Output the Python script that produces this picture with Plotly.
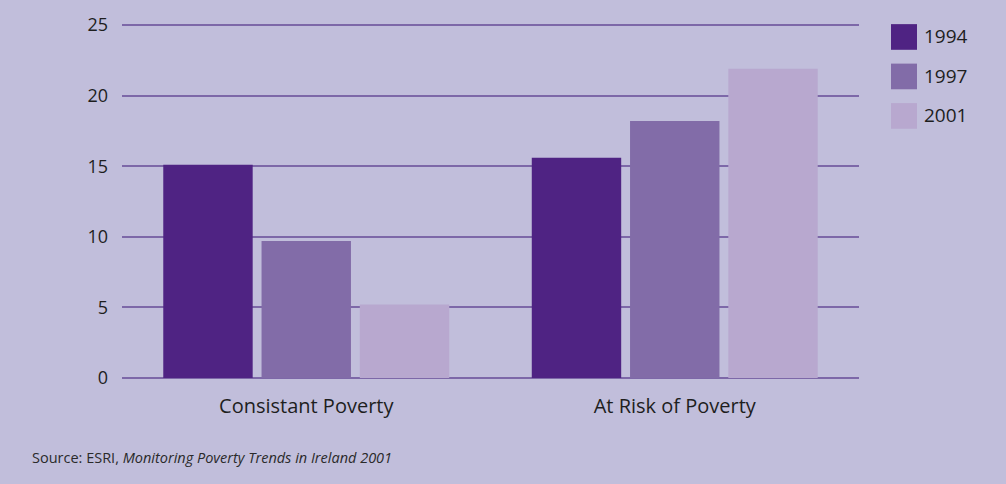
import plotly.graph_objects as go

categories = ["Consistant Poverty", "At Risk of Poverty"]
years = ["1994", "1997", "2001"]
values_1994 = [15.1, 15.6]
values_1997 = [9.7, 18.2]
values_2001 = [5.2, 21.9]
y_ticks = [0, 5, 10, 15, 20, 25]

series = [values_1994, values_1997, values_2001]
colors = ["#4f2383", "#826ca8", "#b8a8cf"]
bg = "#c1bedb"
grid = "#7d68a8"
txt = "#1e1e1e"
font_family = "Open Sans, Lato, sans-serif"

W, H = 1006, 484
L, R = 122, 859          # plot area pixel edges
BOT = 378.5              # pixel of y=0
YMAX = 25.15
PX_PER_UNIT = 14.3
plot_h = YMAX * PX_PER_UNIT
TOP = BOT - plot_h


def px(x):
    return (x - L) / (R - L)


def py(y):
    return (BOT - y) / plot_h


fig = go.Figure()
for name, vals, col in zip(years, series, colors):
    fig.add_trace(go.Bar(x=categories, y=vals, name=name,
                         marker=dict(color=col, line=dict(width=0)),
                         showlegend=False))

# Custom legend (large square swatches)
shapes = []
annotations = []
for i, (name, col) in enumerate(zip(years, colors)):
    y0 = 20 + i * 40
    shapes.append(dict(type="rect", xref="paper", yref="paper",
                       x0=px(891), x1=px(917), y0=py(y0 + 26), y1=py(y0),
                       fillcolor=col, line=dict(width=0)))
    annotations.append(dict(xref="paper", yref="paper", x=px(922), y=py(y0 + 12.5),
                            text=name, showarrow=False, xanchor="left", yanchor="middle",
                            font=dict(size=19, color=txt, family=font_family)))

annotations.append(dict(xref="paper", yref="paper", x=px(30), y=py(459),
                        text="Source: ESRI, <i>Monitoring Poverty Trends in Ireland 2001</i>",
                        showarrow=False, xanchor="left", yanchor="middle",
                        font=dict(size=14.5, color="#2a2a2a", family=font_family)))

fig.update_layout(
    width=W, height=H,
    margin=dict(l=L, r=W - R, t=TOP, b=H - BOT, pad=0),
    paper_bgcolor=bg, plot_bgcolor=bg,
    barmode="group", bargap=0.2, bargroupgap=0.09,
    font=dict(family=font_family, color=txt),
    shapes=shapes, annotations=annotations,
    xaxis=dict(showgrid=False, showline=False, zeroline=False, ticks="",
               tickfont=dict(size=20, color=txt), ticklabelstandoff=14),
    yaxis=dict(range=[0, YMAX], tickvals=y_ticks, showgrid=True, gridcolor=grid, gridwidth=2,
               zeroline=True, zerolinecolor=grid, zerolinewidth=2, showline=False,
               ticks="", ticklabelstandoff=13, tickfont=dict(size=18, color=txt)),
)

fig.write_html("out.html")
